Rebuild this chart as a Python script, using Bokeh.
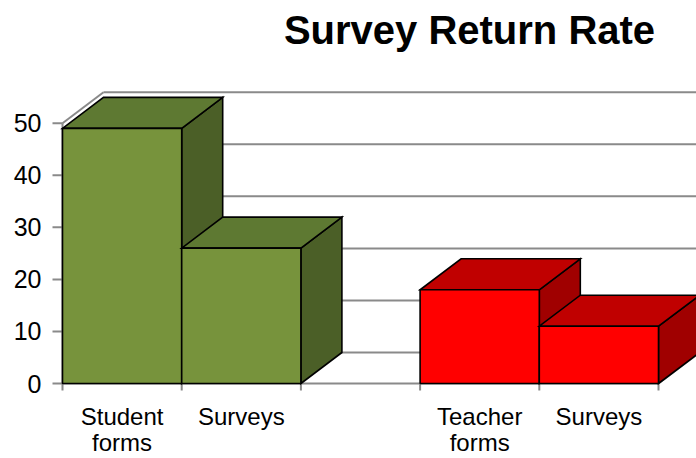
from bokeh.plotting import figure
from bokeh.models import Range1d
from bokeh.core.properties import value
from bokeh.embed import file_html
from bokeh.resources import INLINE

# ---- data ----
title_text = "Survey Return Rate"
categories = ["Student\nforms", "Surveys", "", "Teacher\nforms", "Surveys"]
values = [49, 26, None, 18, 11]
bar_groups = ["student", "student", None, "teacher", "teacher"]
y_ticks = [0, 10, 20, 30, 40, 50]

# ---- styling / geometry ----
FONT = value("Liberation Sans")
face_colors = {
    "student": ("#77933C", "#5E7932", "#4B5F27"),   # front, top, side
    "teacher": ("#FF0000", "#C00000", "#A00000"),
}
GRID = "#8a8a8a"
SLOT_PX = 119.2          # pixels per category slot
UNIT_PX = 5.206          # pixels per value unit
ORIGIN_X, ORIGIN_Y = 62, 383
W, H = 696, 458
DX = 41 / SLOT_PX        # depth offset in x (slot units)
DY = 31 / UNIT_PX        # depth offset in y (value units)
px_x = lambda n: n / SLOT_PX
px_y = lambda n: n / UNIT_PX

x0 = -ORIGIN_X / SLOT_PX
y0 = -(H - ORIGIN_Y) / UNIT_PX
p = figure(width=W, height=H, x_range=Range1d(x0, x0 + W / SLOT_PX),
           y_range=Range1d(y0, y0 + H / UNIT_PX), output_backend="svg",
           toolbar_location=None, min_border=0)
p.axis.visible = False
p.grid.visible = False
p.outline_line_color = None
p.background_fill_color = "white"
p.border_fill_color = "white"

n = len(categories)
ymax = max(y_ticks)

# back wall gridlines
for t in y_ticks:
    p.line([DX, n + DX + 1], [t + DY, t + DY], line_color=GRID, line_width=2)
# left wall top edge & floor right edge
p.line([0, DX], [ymax, ymax + DY], line_color=GRID, line_width=2)
p.line([n, n + DX], [0, DY], line_color=GRID, line_width=2)
# vertical axis line and floor front edge
p.line([0, 0], [0, ymax], line_color=GRID, line_width=2)
p.line([0, n], [0, 0], line_color=GRID, line_width=2)
# y ticks
for t in y_ticks:
    p.line([-px_x(10), 0], [t, t], line_color=GRID, line_width=2)
# x ticks at slot boundaries
for i in range(n + 1):
    p.line([i, i], [0, -px_y(7)], line_color=GRID, line_width=2)

# bars (left to right so right bars occlude left bars' sides)
for i, (v, g) in enumerate(zip(values, bar_groups)):
    if v is None:
        continue
    front, top, side = face_colors[g]
    l, r = i, i + 1
    p.patches(
        xs=[[r, r + DX, r + DX, r], [l, r, r + DX, l + DX]],
        ys=[[0, DY, v + DY, v], [v, v, v + DY, v + DY]],
        fill_color=[side, top], line_color="black", line_width=1.6,
        line_join="miter")
    p.quad(left=[l], right=[r], bottom=[0], top=[v], fill_color=front,
           line_color="black", line_width=1.6)

# y tick labels
p.text(x=[-px_x(21)] * len(y_ticks), y=y_ticks, text=[str(t) for t in y_ticks],
       text_font=FONT, text_font_size="25px", text_align="right",
       text_baseline="middle", text_color="black")

# category labels (two lines)
for i, c in enumerate(categories):
    if not c:
        continue
    for k, line in enumerate(c.split("\n")):
        p.text(x=[i + 0.5], y=[-px_y(33 + 26 * k)], text=[line],
               text_font=FONT, text_font_size="24px", text_align="center",
               text_baseline="middle", text_color="black")

# title
p.text(x=[px_x(469 - ORIGIN_X)], y=[px_y(ORIGIN_Y - 29)], text=[title_text],
       text_font=FONT, text_font_size="40px", text_font_style="bold",
       text_align="center", text_baseline="middle", text_color="black")

open("out.html", "w").write(file_html(p, INLINE))
